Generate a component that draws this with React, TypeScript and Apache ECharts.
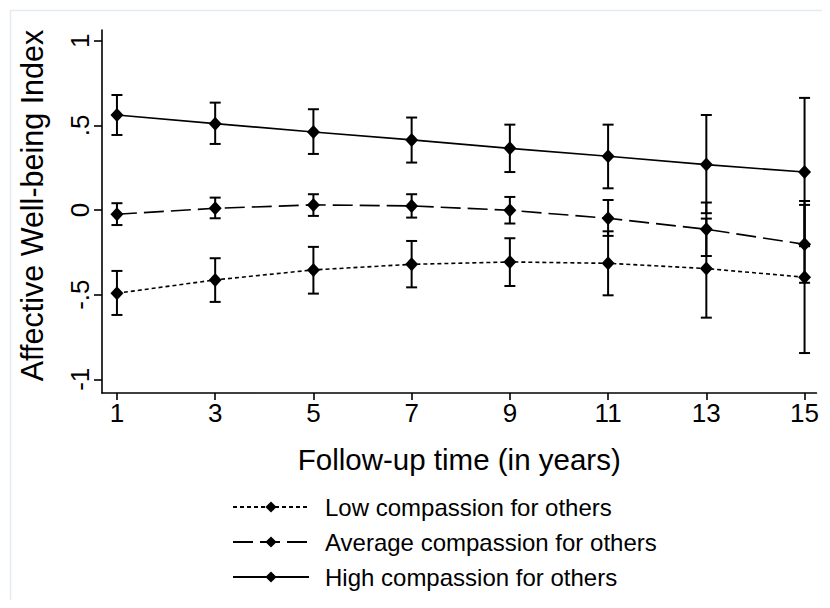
import React, { useEffect, useRef } from "react";
import * as echarts from "echarts";

const years = [1, 3, 5, 7, 9, 11, 13, 15];
const xTicks = [1, 3, 5, 7, 9, 11, 13, 15];
const yTicks = [-1, -0.5, 0, 0.5, 1];

const lowMean = [-0.492, -0.413, -0.354, -0.321, -0.307, -0.315, -0.346, -0.397];
const lowLower = [-0.62, -0.543, -0.494, -0.457, -0.449, -0.504, -0.636, -0.845];
const lowUpper = [-0.36, -0.285, -0.218, -0.183, -0.167, -0.126, -0.051, 0.053];

const avgMean = [-0.025, 0.01, 0.03, 0.024, -0.002, -0.049, -0.114, -0.203];
const avgLower = [-0.089, -0.049, -0.035, -0.045, -0.08, -0.153, -0.272, -0.43];
const avgUpper = [0.04, 0.073, 0.093, 0.093, 0.077, 0.059, 0.044, 0.03];

const highMean = [0.561, 0.51, 0.461, 0.414, 0.364, 0.317, 0.268, 0.224];
const highLower = [0.443, 0.39, 0.331, 0.28, 0.224, 0.128, -0.019, -0.214];
const highUpper = [0.679, 0.634, 0.595, 0.546, 0.504, 0.504, 0.561, 0.662];

const seriesNames = [
  "Low compassion for others",
  "Average compassion for others",
  "High compassion for others",
];

const FONT = "'Liberation Sans', Arial, Helvetica, sans-serif";

function errorSeries(lower: number[], upper: number[]) {
  return {
    type: "custom",
    silent: true,
    data: years.map((y, i) => [y, lower[i], upper[i]]),
    renderItem: (params: any, api: any) => {
      const x = api.value(0);
      const lo = api.coord([x, api.value(1)]);
      const hi = api.coord([x, api.value(2)]);
      const hw = 5.5;
      const style = { stroke: "#000", lineWidth: 2 };
      return {
        type: "group",
        children: [
          { type: "line", shape: { x1: lo[0], y1: lo[1], x2: hi[0], y2: hi[1] }, style },
          { type: "line", shape: { x1: lo[0] - hw, y1: lo[1], x2: lo[0] + hw, y2: lo[1] }, style },
          { type: "line", shape: { x1: hi[0] - hw, y1: hi[1], x2: hi[0] + hw, y2: hi[1] }, style },
        ],
      };
    },
    z: 3,
  };
}

function lineSeries(name: string, mean: number[], dash: any) {
  return {
    type: "line",
    name,
    data: years.map((y, i) => [y, mean[i]]),
    symbol: "diamond",
    symbolSize: [13, 14],
    itemStyle: { color: "#000" },
    lineStyle: { color: "#000", width: 1.6, type: dash },
    z: 4,
  };
}

export default function App() {
  const ref = useRef<HTMLDivElement>(null);
  useEffect(() => {
    if (!ref.current) return;
    const chart = echarts.init(ref.current, undefined, { renderer: "svg" });
    chart.setOption({
      animation: false,
      backgroundColor: "#fff",
      textStyle: { fontFamily: FONT },
      graphic: [
        {
          type: "rect",
          left: 0,
          top: 0,
          shape: { x: 0, y: 0, width: 813, height: 591 },
          style: { fill: "none", stroke: "#e3ebf1", lineWidth: 1.5 },
          silent: true,
        },
      ],
      grid: { left: 93, top: 22, width: 717, height: 363, containLabel: false },
      xAxis: {
        type: "value",
        min: 0.6957,
        max: 15.243,
        name: "Follow-up time (in years)",
        nameLocation: "middle",
        nameGap: 51,
        nameTextStyle: { fontSize: 29.5, color: "#000", fontFamily: FONT },
        axisLine: { show: true, onZero: false, lineStyle: { color: "#000", width: 1.6 } },
        axisTick: { show: true, length: 7, customValues: xTicks, lineStyle: { color: "#000", width: 1.6 } },
        axisLabel: {
          customValues: xTicks,
          fontSize: 26,
          color: "#000",
          margin: 7,
          fontFamily: FONT,
        },
        splitLine: { show: false },
      },
      yAxis: {
        type: "value",
        min: -1.081,
        max: 1.063,
        name: "Affective Well-being Index",
        nameLocation: "middle",
        nameGap: 55,
        nameRotate: 90,
        nameTextStyle: { fontSize: 30.5, color: "#000", fontFamily: FONT, padding: [0, 0, 0, 12] },
        axisLine: { show: true, onZero: false, lineStyle: { color: "#000", width: 1.6 } },
        axisTick: { show: true, length: 8, customValues: yTicks, lineStyle: { color: "#000", width: 1.6 } },
        axisLabel: {
          customValues: yTicks,
          rotate: 90,
          fontSize: 26,
          color: "#000",
          margin: 9,
          fontFamily: FONT,
          formatter: (v: number) => {
            if (v === 0) return "0";
            const s = String(v);
            return s.replace("0.", ".");
          },
        },
        splitLine: { show: false },
      },
      legend: {
        orient: "vertical",
        left: 224,
        top: 486,
        padding: 0,
        itemWidth: 76,
        itemHeight: 14,
        itemGap: 9,
        data: seriesNames,
        textStyle: { fontSize: 24, color: "#000", lineHeight: 26, padding: [0, 0, 0, 11], fontFamily: FONT },
        selectedMode: false,
      },
      series: [
        lineSeries(seriesNames[0], lowMean, [4, 3]),
        lineSeries(seriesNames[1], avgMean, [20, 7]),
        lineSeries(seriesNames[2], highMean, "solid"),
        errorSeries(lowLower, lowUpper),
        errorSeries(avgLower, avgUpper),
        errorSeries(highLower, highUpper),
      ],
    });
    return () => chart.dispose();
  }, []);
  return <div ref={ref} style={{ width: 814, height: 592 }} />;
}
